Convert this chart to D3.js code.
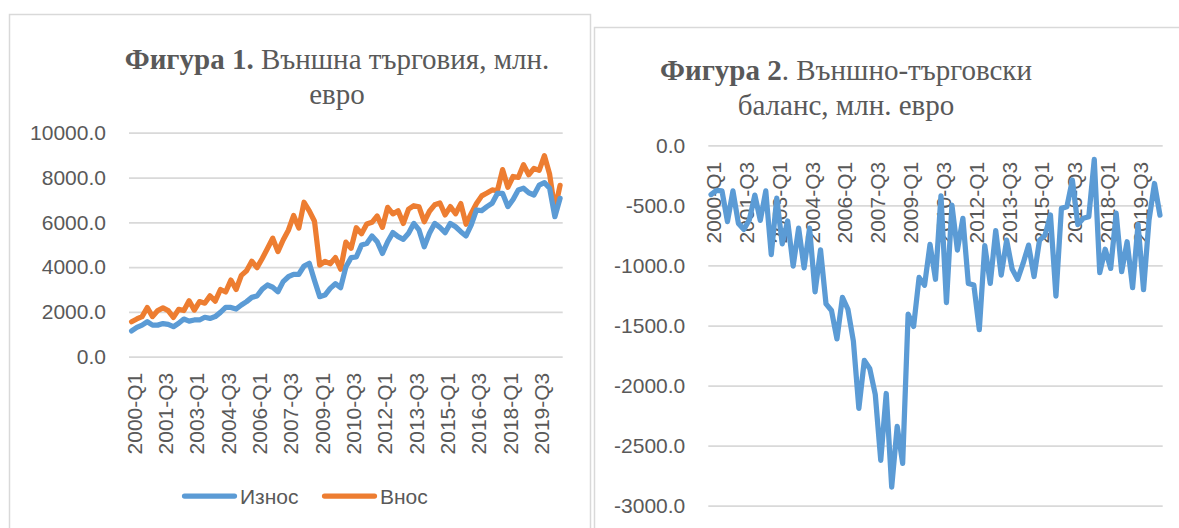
<!DOCTYPE html>
<html><head><meta charset="utf-8">
<script src="https://cdn.jsdelivr.net/npm/d3@7"></script>
<style>body{margin:0;background:#fff;}svg{display:block}</style>
</head><body>
<svg id="c" width="1179" height="528"></svg>
<script>
const categories = [
"2000-Q1","2000-Q2","2000-Q3","2000-Q4","2001-Q1","2001-Q2","2001-Q3","2001-Q4",
"2002-Q1","2002-Q2","2002-Q3","2002-Q4","2003-Q1","2003-Q2","2003-Q3","2003-Q4",
"2004-Q1","2004-Q2","2004-Q3","2004-Q4","2005-Q1","2005-Q2","2005-Q3","2005-Q4",
"2006-Q1","2006-Q2","2006-Q3","2006-Q4","2007-Q1","2007-Q2","2007-Q3","2007-Q4",
"2008-Q1","2008-Q2","2008-Q3","2008-Q4","2009-Q1","2009-Q2","2009-Q3","2009-Q4",
"2010-Q1","2010-Q2","2010-Q3","2010-Q4","2011-Q1","2011-Q2","2011-Q3","2011-Q4",
"2012-Q1","2012-Q2","2012-Q3","2012-Q4","2013-Q1","2013-Q2","2013-Q3","2013-Q4",
"2014-Q1","2014-Q2","2014-Q3","2014-Q4","2015-Q1","2015-Q2","2015-Q3","2015-Q4",
"2016-Q1","2016-Q2","2016-Q3","2016-Q4","2017-Q1","2017-Q2","2017-Q3","2017-Q4",
"2018-Q1","2018-Q2","2018-Q3","2018-Q4","2019-Q1","2019-Q2","2019-Q3","2019-Q4",
"2020-Q1","2020-Q2","2020-Q3"];

// Износ (exports), млн. евро
const exportsSeries = [
1150,1310,1410,1560,1410,1410,1480,1440,1340,1490,1680,1590,1640,1640,1760,1710,
1790,1980,2200,2200,2130,2310,2460,2650,2710,3020,3200,3100,2900,3350,3570,3680,
3680,4050,4170,3400,2680,2750,3050,3260,3080,4000,4420,4450,4990,5050,5390,5130,
4610,5130,5540,5360,5240,5510,5950,5660,4910,5510,5950,5770,5540,5950,5800,5580,
5390,5880,6550,6520,6700,6850,7290,7290,6700,7020,7440,7520,7320,7220,7660,7770,
7520,6250,7070];

// Внос (imports), млн. евро
const importsSeries = [
1560,1685,1790,2195,1790,2060,2180,2060,1755,2115,2060,2500,2080,2460,2390,2715,
2480,3000,2890,3420,3000,3630,3835,4262,3975,4385,4830,5290,4690,5210,5645,6302,
5746,6895,6510,6047,4085,4258,4150,4425,3905,5115,4840,5760,5488,5922,5998,6280,
5773,6665,6375,6510,5950,6590,6740,6690,6026,6493,6781,6862,6330,6700,6380,6835,
5915,6392,6840,7180,7308,7445,7408,8350,7565,8045,8005,8572,8123,8405,8318,8972,
8142,6568,7652];

// Външно-търговски баланс, млн. евро
const balanceSeries = [
-410,-375,-380,-635,-380,-650,-700,-620,-415,-625,-380,-910,-440,-820,-630,-1005,
-690,-1020,-690,-1220,-870,-1320,-1375,-1612,-1265,-1365,-1630,-2190,-1790,-1860,-2075,-2622,
-2066,-2845,-2340,-2647,-1405,-1508,-1100,-1165,-825,-1115,-420,-1310,-498,-872,-608,-1150,
-1163,-1535,-835,-1150,-710,-1080,-790,-1030,-1116,-983,-831,-1092,-790,-750,-580,-1255,
-525,-512,-290,-660,-608,-595,-118,-1060,-865,-1025,-565,-1052,-803,-1185,-658,-1202,
-622,-318,-582];

const shownCategoryLabels = ["2000-Q1","2001-Q3","2003-Q1","2004-Q3","2006-Q1","2007-Q3","2009-Q1",
"2010-Q3","2012-Q1","2013-Q3","2015-Q1","2016-Q3","2018-Q1","2019-Q3"];
const tradeTicks = [0,2000,4000,6000,8000,10000];
const balanceTicks = [0,-500,-1000,-1500,-2000,-2500,-3000];
const seriesNames = ["Износ","Внос"];
const colors = {exp:"#5B9BD5", imp:"#ED7D31", text:"#595959", grid:"#D9D9D9"};

const loc = d3.formatLocale({decimal:".",thousands:"",grouping:[3],currency:["",""],minus:"-"});
const fmt = loc.format(".1f");
const svg = d3.select("#c");
const sans = "'Liberation Sans', Arial, sans-serif";
const serif = "'Liberation Serif', 'Times New Roman', serif";

// panel borders
svg.append("rect").attr("x",9.5).attr("y",14.5).attr("width",581).attr("height",540)
  .attr("fill","#fff").attr("stroke",colors.grid).attr("stroke-width",1.5);
svg.append("rect").attr("x",594.5).attr("y",27.5).attr("width",600).attr("height",540)
  .attr("fill","#fff").attr("stroke",colors.grid).attr("stroke-width",1.5);

function title(cx, y1, boldPart, rest, line2){
  const t = svg.append("text").attr("x",cx).attr("y",y1).attr("text-anchor","middle")
    .attr("font-family",serif).attr("font-size",29).attr("fill",colors.text);
  t.append("tspan").attr("font-weight","bold").text(boldPart);
  t.append("tspan").text(rest);
  svg.append("text").attr("x",cx).attr("y",y1+35).attr("text-anchor","middle")
    .attr("font-family",serif).attr("font-size",29).attr("fill",colors.text).text(line2);
}
title(337, 69, "Фигура 1.", " Външна търговия, млн.", "евро");
title(846, 80, "Фигура 2", ". Външно-търговски", "баланс, млн. евро");

function yAxis(g, y, ticks, width){
  g.call(d3.axisLeft(y).tickValues(ticks).tickFormat(fmt).tickSize(-width).tickPadding(23))
   .call(s=>s.select(".domain").remove())
   .call(s=>s.selectAll(".tick line").attr("stroke",colors.grid).attr("stroke-width",1.75))
   .call(s=>s.selectAll(".tick text").attr("fill",colors.text).attr("font-family",sans).attr("font-size",21));
}
function xAxis(g, x, offset){
  g.call(d3.axisBottom(x).tickValues(shownCategoryLabels).tickSize(0).tickPadding(0))
   .call(s=>s.select(".domain").remove())
   .call(s=>s.selectAll(".tick text").attr("fill",colors.text).attr("font-family",sans).attr("font-size",21)
      .attr("transform","rotate(-90)").attr("text-anchor","end").attr("x",-offset).attr("y",0).attr("dy","0.45em"));
}

// Chart 1
const x1 = d3.scalePoint().domain(categories).range([129,562.7]).padding(0.5);
const y1 = d3.scaleLinear().domain([0,10000]).range([356.7,132.7]);
yAxis(svg.append("g").attr("transform","translate(129,0)"), y1, tradeTicks, 562.7-129);
xAxis(svg.append("g").attr("transform","translate(0,356.7)"), x1, 16);
const line1 = d3.line().x((d,i)=>x1(categories[i])).y(d=>y1(d));
[[exportsSeries,colors.exp],[importsSeries,colors.imp]].reverse().forEach(([s,c])=>{
  svg.append("path").attr("d",line1(s)).attr("fill","none").attr("stroke",c)
    .attr("stroke-width",5.25).attr("stroke-linejoin","round").attr("stroke-linecap","round");
});

// legend
const legend = [{name:seriesNames[0],c:colors.exp,x:182},{name:seriesNames[1],c:colors.imp,x:322}];
const lg = svg.append("g");
legend.forEach(l=>{
  lg.append("line").attr("x1",l.x+2.5).attr("x2",l.x+52.5).attr("y1",496).attr("y2",496)
    .attr("stroke",l.c).attr("stroke-width",5.25).attr("stroke-linecap","round");
  lg.append("text").attr("x",l.x+58).attr("y",503.5).attr("font-family",sans).attr("font-size",21)
    .attr("fill",colors.text).text(l.name);
});

// Chart 2
const x2 = d3.scalePoint().domain(categories).range([708.3,1162.7]).padding(0.5);
const y2 = d3.scaleLinear().domain([-3000,0]).range([505.7,145.3]);
yAxis(svg.append("g").attr("transform","translate(708.3,0)"), y2, balanceTicks, 1162.7-708.3);
xAxis(svg.append("g").attr("transform","translate(0,145.3)"), x2, 16.5);
const line2 = d3.line().x((d,i)=>x2(categories[i])).y(d=>y2(d));
svg.append("path").attr("d",line2(balanceSeries)).attr("fill","none").attr("stroke",colors.exp)
  .attr("stroke-width",5.25).attr("stroke-linejoin","round").attr("stroke-linecap","round");
</script>
</body></html>
